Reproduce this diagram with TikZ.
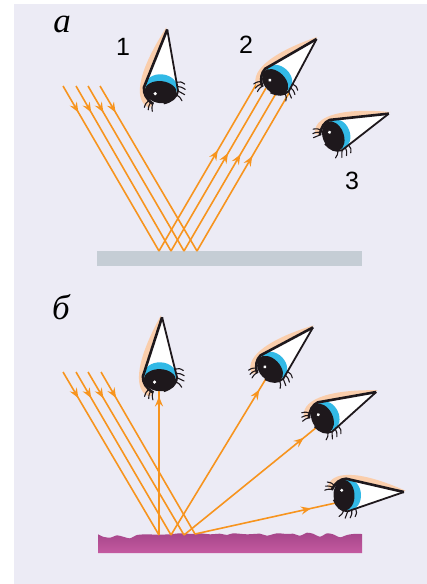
\documentclass[tikz,border=0pt]{standalone}
\usepackage{fontspec}
\setmainfont{Liberation Serif}
\newfontfamily\digitfont{Liberation Sans}
\usetikzlibrary{arrows.meta,decorations.markings}
\definecolor{panelbg}{RGB}{236,235,245}
\definecolor{rayorange}{RGB}{247,148,30}
\definecolor{mirrorgray}{RGB}{197,205,213}
\definecolor{roughtop}{RGB}{166,70,138}
\definecolor{roughbottom}{RGB}{196,90,160}
\definecolor{browpeach}{RGB}{250,206,172}
\definecolor{irisblue}{RGB}{50,185,230}
\definecolor{pupilblack}{RGB}{30,24,28}
\tikzset{
  ray/.style={draw=rayorange, line width=1.6pt},
  tipat/.style={postaction={decorate,decoration={markings,
      mark=at position #1 with {\arrow{Stealth[length=10pt,width=8pt,inset=3.5pt]}}}}},
  digit/.style={font=\digitfont\fontsize{25}{25}\selectfont, inner sep=0pt},
  panel/.style={font=\itshape\fontsize{35}{35}\selectfont, inner sep=0pt},
  lash/.style={draw=pupilblack, line width=1.1pt, line cap=round},
  pics/eye/.style={code={
    \begin{scope}[x=1pt,y=1pt]
      % brow above the upper lid
      \fill[browpeach] (-19,9) .. controls (-15,24) and (10,26) .. (59,1)
        -- (57,1) -- (0,17) .. controls (-8,16.5) and (-13,12) .. (-15,6) -- cycle;
      % white of the eye
      \fill[white] (57,0) -- (0,16.3) .. controls (-8,15.5) and (-13.5,9) .. (-13.5,0)
         .. controls (-13.5,-9) and (-8,-16) .. (0,-16.3) -- cycle;
      \begin{scope}
        \clip (57,0) -- (0,16.3) .. controls (-8,15.5) and (-13.5,9) .. (-13.5,0)
           .. controls (-13.5,-9) and (-8,-16) .. (0,-16.3) -- cycle;
        \fill[irisblue] (2,0) ellipse [x radius=12, y radius=15.5];
        \fill[pupilblack] (-3,0) ellipse [x radius=10.5, y radius=15.5];
      \end{scope}
      \fill[white] (-5,5) circle (1.7);
      % lids
      \draw[pupilblack, line width=2.6pt, line join=round]
        (-15,6) .. controls (-11,13) and (-6,16.3) .. (0,16.3) -- (57,0);
      \draw[pupilblack, line width=1.8pt, line join=round]
        (57,0) -- (0,-16.3) .. controls (-7,-16) and (-11,-11) .. (-13.5,-4);
      % lashes
      \draw[lash] (-12,10) .. controls (-15,13) .. (-19,14);
      \draw[lash] (-13,8) .. controls (-17,10) .. (-21,10);
      \draw[lash] (-14,6) .. controls (-18,7) .. (-22,6);
      \draw[lash] (-4,-15) .. controls (-6,-19) .. (-9,-21);
      \draw[lash] (0,-16) .. controls (-1,-20) .. (-3,-23);
      \draw[lash] (4,-15.5) .. controls (4,-19) .. (2,-23);
      \draw[lash] (8,-14.5) .. controls (9,-18) .. (7,-22);
    \end{scope}
  }}
}
\begin{document}
\begin{tikzpicture}[x=1pt,y=-1pt]
\useasboundingbox (0,0) rectangle (427,584);
\fill[panelbg] (14,4) rectangle (427,584);

% ---------- panel a: smooth mirror ----------
\node[panel] (la) at (62,24) {а};
\node[digit] (n1) at (123,47) {1};
\node[digit] (n2) at (246,45) {2};
\node[digit] (n3) at (352,181) {3};

\fill[mirrorgray] (97,251) rectangle (362,266);

\coordinate (ai1) at (63,86);   \coordinate (ap1) at (159,251);
\coordinate (ai2) at (76,86);   \coordinate (ap2) at (171,251);
\coordinate (ai3) at (88,86);   \coordinate (ap3) at (184,251);
\coordinate (ai4) at (100,86);  \coordinate (ap4) at (197,251);
\coordinate (ar1) at (257,83);
\coordinate (ar2) at (266,88);
\coordinate (ar3) at (278,90);
\coordinate (ar4) at (289,93);

\foreach \k in {1,...,4}{
  \draw[ray, tipat=0.16] (ai\k) -- (ap\k);
  \draw[ray, tipat=0.6] (ap\k) -- (ar\k);
}

\pic[rotate=84, scale=1.05] (eyeA1) at (161,89) {eye};
\pic[rotate=46] (eyeA2) at (277,80) {eye};
\pic[rotate=22] (eyeA3) at (336,135) {eye};

% ---------- panel b: rough surface ----------
\node[panel] (lb) at (61,307) {б};

\shade[top color=roughtop, bottom color=roughbottom]
  (98,553) -- plot[smooth, tension=0.4] coordinates {
   (98,534.3) (103,536.7) (110,537.7) (117,535.3) (123,536.7) (130,538.3)
   (137,535) (147,534.3) (157,534.7) (170,534.3) (180,533.3) (193,534)
   (200,533.3) (210,534.3) (220,533.7) (227,535) (233,533.3) (247,534.3)
   (260,533.7) (267,535.7) (277,533.3) (287,534) (293,533.7) (300,535.7)
   (307,532.7) (313,533.7) (320,536.7) (327,533.3) (333,534.3) (340,537.3)
   (347,535) (353,534) (362,534)} -- (362,553) -- cycle;

\coordinate (bi1) at (63,372);   \coordinate (bp1) at (159,535);
\coordinate (bi2) at (76,372);   \coordinate (bp2) at (171,535);
\coordinate (bi3) at (88,372);   \coordinate (bp3) at (184,535);
\coordinate (bi4) at (101,372);  \coordinate (bp4) at (195,534);
\coordinate (bs1) at (159,386);
\coordinate (bs2) at (267,377);
\coordinate (bs3) at (317,427);
\coordinate (bs4) at (340,502);

\foreach \k in {1,...,4}{
  \draw[ray, tipat=0.16] (bi\k) -- (bp\k);
}
\draw[ray, tipat=0.93] (bp1) -- (bs1);
\draw[ray, tipat=0.92] (bp2) -- (bs2);
\draw[ray, tipat=0.90] (bp3) -- (bs3);
\draw[ray, tipat=0.80] (bp4) -- (bs4);

\pic[rotate=88, scale=1.05] (eyeB1) at (160,377) {eye};
\pic[rotate=44] (eyeB2) at (272,367) {eye};
\pic[rotate=26] (eyeB3) at (325,417) {eye};
\pic[rotate=3] (eyeB4) at (347,495) {eye};
\end{tikzpicture}
\end{document}
